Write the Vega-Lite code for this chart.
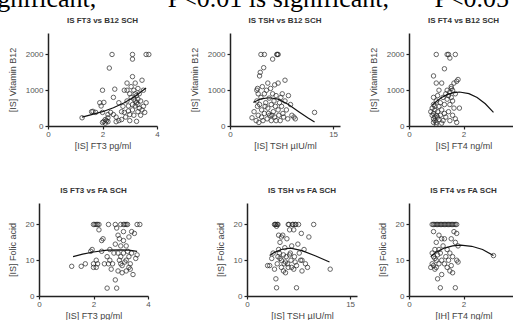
{
"$schema": "https://vega.github.io/schema/vega-lite/v6.json",
"padding": {"left": -20, "top": -14, "right": 0, "bottom": 0},
"title": {"text": "significant,\u00a0\u00a0\u00a0\u00a0\u00a0**\u00a0\u00a0P<0.01 is significant,\u00a0\u00a0\u00a0*\u00a0\u00a0P<0.05 is significant", "font": "Liberation Serif", "fontSize": 26, "fontWeight": "normal", "color": "#000", "anchor": "start", "frame": "group", "baseline": "alphabetic", "dx": -59, "offset": -16},
"datasets": {
"p1": [{"x":1.25,"y":230},{"x":1.6,"y":400},{"x":1.65,"y":410},{"x":1.75,"y":380},{"x":1.9,"y":650},{"x":2.0,"y":1000},{"x":2.05,"y":660},{"x":1.95,"y":560},{"x":2.0,"y":100},{"x":2.05,"y":130},{"x":2.1,"y":80},{"x":2.1,"y":180},{"x":2.15,"y":150},{"x":2.2,"y":120},{"x":2.2,"y":230},{"x":2.25,"y":1620},{"x":2.35,"y":2000},{"x":2.4,"y":800},{"x":2.45,"y":1030},{"x":2.3,"y":380},{"x":2.4,"y":320},{"x":2.5,"y":250},{"x":2.5,"y":120},{"x":2.6,"y":150},{"x":2.7,"y":180},{"x":2.7,"y":400},{"x":2.75,"y":550},{"x":2.8,"y":380},{"x":2.85,"y":250},{"x":2.9,"y":1200},{"x":2.9,"y":1000},{"x":2.9,"y":700},{"x":2.95,"y":560},{"x":2.95,"y":420},{"x":3.0,"y":900},{"x":3.0,"y":320},{"x":3.0,"y":150},{"x":3.05,"y":1100},{"x":3.05,"y":800},{"x":3.1,"y":1870},{"x":3.1,"y":2000},{"x":3.1,"y":1380},{"x":3.1,"y":600},{"x":3.1,"y":450},{"x":3.15,"y":1000},{"x":3.15,"y":750},{"x":3.15,"y":300},{"x":3.2,"y":1200},{"x":3.2,"y":900},{"x":3.2,"y":700},{"x":3.2,"y":560},{"x":3.25,"y":650},{"x":3.25,"y":850},{"x":3.25,"y":130},{"x":3.3,"y":1050},{"x":3.3,"y":750},{"x":3.3,"y":600},{"x":3.3,"y":400},{"x":3.35,"y":500},{"x":3.35,"y":900},{"x":3.4,"y":700},{"x":3.4,"y":300},{"x":3.45,"y":1280},{"x":3.45,"y":450},{"x":3.5,"y":1000},{"x":3.5,"y":550},{"x":3.55,"y":380},{"x":3.6,"y":2000},{"x":3.7,"y":2000},{"x":3.6,"y":650},{"x":2.6,"y":650},{"x":2.8,"y":1000},{"x":2.2,"y":320},{"x":2.0,"y":380}],
"f1": [{"x":1.25,"y":250},{"x":1.6,"y":320},{"x":2.0,"y":400},{"x":2.4,"y":510},{"x":2.8,"y":650},{"x":3.2,"y":830},{"x":3.6,"y":1060}],
"p2": [{"x":3.2,"y":230},{"x":3.5,"y":400},{"x":3.8,"y":150},{"x":3.9,"y":700},{"x":4.0,"y":1050},{"x":4.0,"y":550},{"x":4.1,"y":300},{"x":4.1,"y":900},{"x":4.2,"y":100},{"x":4.3,"y":1400},{"x":4.4,"y":1500},{"x":4.5,"y":2000},{"x":4.5,"y":800},{"x":4.6,"y":450},{"x":4.7,"y":1100},{"x":4.8,"y":150},{"x":4.9,"y":1630},{"x":5.0,"y":2000},{"x":5.0,"y":900},{"x":5.0,"y":350},{"x":5.2,"y":650},{"x":5.3,"y":1000},{"x":5.4,"y":200},{"x":5.5,"y":500},{"x":5.5,"y":1200},{"x":5.7,"y":780},{"x":5.8,"y":300},{"x":5.9,"y":1050},{"x":6.0,"y":600},{"x":6.0,"y":150},{"x":6.2,"y":1870},{"x":6.2,"y":900},{"x":6.3,"y":400},{"x":6.4,"y":700},{"x":6.5,"y":1150},{"x":6.5,"y":250},{"x":6.6,"y":550},{"x":6.7,"y":850},{"x":6.8,"y":2000},{"x":6.9,"y":2000},{"x":7.0,"y":2000},{"x":7.0,"y":1200},{"x":7.0,"y":450},{"x":7.1,"y":300},{"x":7.2,"y":650},{"x":7.3,"y":150},{"x":7.4,"y":800},{"x":7.5,"y":550},{"x":7.6,"y":900},{"x":7.8,"y":250},{"x":8.0,"y":1280},{"x":8.0,"y":700},{"x":8.2,"y":450},{"x":8.5,"y":850},{"x":8.8,"y":600},{"x":9.0,"y":300},{"x":9.3,"y":250},{"x":9.5,"y":200},{"x":12.3,"y":380},{"x":5.6,"y":350},{"x":6.1,"y":300},{"x":4.3,"y":600},{"x":3.9,"y":1000},{"x":5.1,"y":550},{"x":7.7,"y":350},{"x":8.4,"y":200},{"x":6.7,"y":150},{"x":4.6,"y":250}],
"f2": [{"x":3.4,"y":660},{"x":4.5,"y":760},{"x":5.7,"y":790},{"x":7.0,"y":750},{"x":8.5,"y":600},{"x":10.0,"y":400},{"x":11.3,"y":230},{"x":12.3,"y":110}],
"p3": [{"x":0.8,"y":400},{"x":0.85,"y":300},{"x":0.85,"y":500},{"x":0.9,"y":200},{"x":0.9,"y":350},{"x":0.9,"y":600},{"x":0.9,"y":800},{"x":0.9,"y":1400},{"x":0.95,"y":250},{"x":0.95,"y":150},{"x":0.95,"y":450},{"x":1.0,"y":2000},{"x":1.0,"y":300},{"x":1.0,"y":100},{"x":1.0,"y":700},{"x":1.0,"y":1200},{"x":1.05,"y":400},{"x":1.05,"y":250},{"x":1.1,"y":550},{"x":1.1,"y":1000},{"x":1.1,"y":180},{"x":1.15,"y":300},{"x":1.15,"y":650},{"x":1.2,"y":80},{"x":1.2,"y":1200},{"x":1.25,"y":800},{"x":1.25,"y":150},{"x":1.3,"y":1600},{"x":1.3,"y":600},{"x":1.35,"y":900},{"x":1.35,"y":250},{"x":1.4,"y":2000},{"x":1.4,"y":1000},{"x":1.4,"y":750},{"x":1.45,"y":2000},{"x":1.45,"y":850},{"x":1.45,"y":400},{"x":1.5,"y":1900},{"x":1.5,"y":950},{"x":1.5,"y":600},{"x":1.5,"y":150},{"x":1.55,"y":1100},{"x":1.55,"y":800},{"x":1.6,"y":1000},{"x":1.6,"y":300},{"x":1.65,"y":1200},{"x":1.65,"y":500},{"x":1.7,"y":2000},{"x":1.7,"y":900},{"x":1.7,"y":200},{"x":1.75,"y":1250},{"x":1.75,"y":100},{"x":1.8,"y":1300},{"x":1.85,"y":500},{"x":1.6,"y":700},{"x":1.55,"y":1050},{"x":0.95,"y":550},{"x":1.05,"y":850},{"x":1.3,"y":350},{"x":1.2,"y":450},{"x":0.9,"y":100},{"x":1.0,"y":50}],
"f3": [{"x":0.85,"y":585},{"x":1.0,"y":686},{"x":1.2,"y":796},{"x":1.4,"y":876},{"x":1.6,"y":927},{"x":1.85,"y":950},{"x":2.2,"y":905},{"x":2.5,"y":796},{"x":2.8,"y":621},{"x":3.1,"y":380}],
"p4": [{"x":1.2,"y":8.3},{"x":1.55,"y":8.3},{"x":1.7,"y":9},{"x":1.9,"y":12.5},{"x":1.95,"y":13},{"x":2.0,"y":20},{"x":2.05,"y":20},{"x":2.1,"y":20},{"x":2.15,"y":20},{"x":2.2,"y":20},{"x":2.0,"y":8},{"x":2.0,"y":9},{"x":2.1,"y":8},{"x":2.1,"y":10},{"x":2.15,"y":9},{"x":2.2,"y":18.5},{"x":2.3,"y":15.5},{"x":2.3,"y":12.5},{"x":2.35,"y":16},{"x":2.4,"y":9},{"x":2.5,"y":11},{"x":2.5,"y":2.2},{"x":2.55,"y":9},{"x":2.6,"y":10},{"x":2.65,"y":7.5},{"x":2.7,"y":9},{"x":2.75,"y":12},{"x":2.8,"y":4.5},{"x":2.8,"y":20},{"x":2.85,"y":19},{"x":2.85,"y":2.2},{"x":2.9,"y":17},{"x":2.9,"y":12},{"x":2.9,"y":7},{"x":2.95,"y":16},{"x":2.95,"y":10},{"x":3.0,"y":14},{"x":3.0,"y":11},{"x":3.0,"y":20},{"x":3.05,"y":8.5},{"x":3.05,"y":6.5},{"x":3.1,"y":20},{"x":3.1,"y":18},{"x":3.1,"y":15.5},{"x":3.1,"y":12},{"x":3.15,"y":9.5},{"x":3.15,"y":20},{"x":3.2,"y":20},{"x":3.2,"y":14},{"x":3.2,"y":10},{"x":3.2,"y":7},{"x":3.25,"y":20},{"x":3.25,"y":12.5},{"x":3.3,"y":8},{"x":3.3,"y":11},{"x":3.3,"y":16.5},{"x":3.35,"y":9},{"x":3.4,"y":18},{"x":3.4,"y":12},{"x":3.45,"y":6},{"x":3.5,"y":17.5},{"x":3.55,"y":10.5},{"x":3.6,"y":20},{"x":3.7,"y":20},{"x":3.6,"y":11.5},{"x":2.55,"y":20},{"x":2.6,"y":13},{"x":3.0,"y":9},{"x":3.35,"y":7.5},{"x":2.8,"y":14.5}],
"f4": [{"x":1.25,"y":11.0},{"x":1.6,"y":11.7},{"x":2.0,"y":12.3},{"x":2.5,"y":12.8},{"x":3.0,"y":12.9},{"x":3.3,"y":12.8},{"x":3.6,"y":12.5}],
"p5": [{"x":3.0,"y":8.5},{"x":3.3,"y":8.5},{"x":3.6,"y":10.5},{"x":3.8,"y":12},{"x":4.0,"y":20},{"x":4.1,"y":20},{"x":4.2,"y":20},{"x":4.3,"y":19.5},{"x":4.4,"y":20},{"x":4.5,"y":20},{"x":4.0,"y":7.5},{"x":4.2,"y":4.8},{"x":4.3,"y":2.3},{"x":4.4,"y":9},{"x":4.5,"y":11},{"x":4.6,"y":13},{"x":4.7,"y":12},{"x":4.8,"y":15},{"x":5.0,"y":16.5},{"x":5.0,"y":10},{"x":5.0,"y":8},{"x":5.2,"y":17},{"x":5.3,"y":11.5},{"x":5.4,"y":9},{"x":5.5,"y":13.5},{"x":5.6,"y":6.5},{"x":5.7,"y":11},{"x":5.8,"y":16},{"x":5.9,"y":9},{"x":6.0,"y":20},{"x":6.1,"y":20},{"x":6.2,"y":18.5},{"x":6.3,"y":12},{"x":6.4,"y":10},{"x":6.5,"y":8},{"x":6.5,"y":14},{"x":6.6,"y":20},{"x":6.7,"y":20},{"x":6.8,"y":18.5},{"x":6.9,"y":11},{"x":7.0,"y":20},{"x":7.1,"y":20},{"x":7.2,"y":8.5},{"x":7.2,"y":2.3},{"x":7.4,"y":14.5},{"x":7.5,"y":20},{"x":7.6,"y":12},{"x":7.8,"y":10},{"x":7.9,"y":17.5},{"x":8.0,"y":10},{"x":8.0,"y":7},{"x":8.3,"y":13},{"x":8.5,"y":9},{"x":8.8,"y":8},{"x":9.0,"y":16.5},{"x":9.7,"y":20},{"x":12.1,"y":7.5},{"x":5.3,"y":7},{"x":6.0,"y":8},{"x":6.2,"y":11.5},{"x":4.8,"y":10.5},{"x":5.6,"y":9.5},{"x":7.0,"y":9.5},{"x":6.8,"y":7.5},{"x":4.6,"y":17}],
"f5": [{"x":3.3,"y":11.3},{"x":4.0,"y":12.2},{"x":5.0,"y":13.0},{"x":6.0,"y":13.3},{"x":6.5,"y":13.3},{"x":8.0,"y":12.7},{"x":10.0,"y":11.2},{"x":12.0,"y":9.5}],
"p6": [{"x":0.8,"y":8},{"x":0.85,"y":9},{"x":0.85,"y":12},{"x":0.85,"y":20},{"x":0.9,"y":20},{"x":0.9,"y":8.5},{"x":0.9,"y":11},{"x":0.95,"y":20},{"x":0.95,"y":13},{"x":0.95,"y":7.5},{"x":1.0,"y":20},{"x":1.0,"y":15},{"x":1.0,"y":10},{"x":1.0,"y":8},{"x":1.05,"y":20},{"x":1.05,"y":11.5},{"x":1.05,"y":4.8},{"x":1.1,"y":20},{"x":1.1,"y":9},{"x":1.1,"y":17},{"x":1.15,"y":20},{"x":1.15,"y":2.3},{"x":1.15,"y":12},{"x":1.2,"y":20},{"x":1.2,"y":16},{"x":1.2,"y":10},{"x":1.25,"y":20},{"x":1.25,"y":14},{"x":1.3,"y":20},{"x":1.3,"y":9},{"x":1.3,"y":16},{"x":1.35,"y":20},{"x":1.35,"y":11},{"x":1.4,"y":20},{"x":1.4,"y":8},{"x":1.4,"y":13},{"x":1.45,"y":20},{"x":1.45,"y":10},{"x":1.5,"y":20},{"x":1.5,"y":12},{"x":1.5,"y":7},{"x":1.55,"y":20},{"x":1.55,"y":16},{"x":1.6,"y":20},{"x":1.6,"y":11},{"x":1.6,"y":6.5},{"x":1.65,"y":20},{"x":1.65,"y":18},{"x":1.7,"y":20},{"x":1.7,"y":2.3},{"x":1.7,"y":15},{"x":1.75,"y":20},{"x":1.75,"y":17.5},{"x":1.75,"y":10},{"x":1.8,"y":9.5},{"x":1.8,"y":14},{"x":3.1,"y":11.3},{"x":0.9,"y":18},{"x":1.2,"y":6},{"x":1.55,"y":8.5},{"x":0.95,"y":10.5},{"x":1.1,"y":13}],
"f6": [{"x":0.8,"y":11.0},{"x":1.0,"y":12.3},{"x":1.3,"y":13.4},{"x":1.6,"y":14.0},{"x":1.9,"y":14.2},{"x":2.3,"y":13.9},{"x":2.7,"y":13.0},{"x":3.1,"y":11.3}]
},
"vconcat": [
{"hconcat": [
 {"width": 9, "height": 93, "data": {"values": []}, "mark": "point"},
 {"width": 109, "height": 93, "title": "IS FT3 vs B12 SCH", "layer": [
  {"data": {"name": "p1"}, "mark": {"type": "point", "shape": "circle", "size": 20, "strokeWidth": 1, "color": "#222"},
   "encoding": {"x": {"field": "x", "type": "quantitative", "scale": {"domain": [0, 4]}, "axis": {"values": [0,1,2,3,4], "format": "d", "title": "[IS] FT3 pg/ml"}},
                "y": {"field": "y", "type": "quantitative", "scale": {"domain": [0, 2500]}, "axis": {"values": [0,500,1000,1500,2000,2500], "format": "d", "title": "[IS] Vitamin B12"}}}},
  {"data": {"name": "f1"}, "mark": {"type": "line", "color": "#111", "strokeWidth": 1.2}, "encoding": {"x": {"field": "x", "type": "quantitative"}, "y": {"field": "y", "type": "quantitative"}}}
 ]},
 {"width": 73, "height": 93, "data": {"values": []}, "mark": "point"},
 {"width": 110, "height": 93, "title": "IS TSH vs B12 SCH", "layer": [
  {"data": {"name": "p2"}, "mark": {"type": "point", "shape": "circle", "size": 20, "strokeWidth": 1, "color": "#222"},
   "encoding": {"x": {"field": "x", "type": "quantitative", "scale": {"domain": [0, 15]}, "axis": {"values": [0,5,10,15], "format": "d", "title": "[IS] TSH µIU/ml"}},
                "y": {"field": "y", "type": "quantitative", "scale": {"domain": [0, 2500]}, "axis": {"values": [0,500,1000,1500,2000,2500], "format": "d", "title": "[IS] Vitamin B12"}}}},
  {"data": {"name": "f2"}, "mark": {"type": "line", "color": "#111", "strokeWidth": 1.2}, "encoding": {"x": {"field": "x", "type": "quantitative"}, "y": {"field": "y", "type": "quantitative"}}}
 ]},
 {"width": 69, "height": 93, "data": {"values": []}, "mark": "point"},
 {"width": 109, "height": 93, "title": "IS FT4 vs B12 SCH", "layer": [
  {"data": {"name": "p3"}, "mark": {"type": "point", "shape": "circle", "size": 20, "strokeWidth": 1, "color": "#222"},
   "encoding": {"x": {"field": "x", "type": "quantitative", "scale": {"domain": [0, 4]}, "axis": {"values": [0,1,2,3,4], "format": "d", "title": "[IS] FT4 ng/ml"}},
                "y": {"field": "y", "type": "quantitative", "scale": {"domain": [0, 2500]}, "axis": {"values": [0,500,1000,1500,2000,2500], "format": "d", "title": "[IS] Vitamin B12"}}}},
  {"data": {"name": "f3"}, "mark": {"type": "line", "color": "#111", "strokeWidth": 1.2}, "encoding": {"x": {"field": "x", "type": "quantitative"}, "y": {"field": "y", "type": "quantitative"}}}
 ]}
], "spacing": 0, "bounds": "flush"},
{"hconcat": [
 {"width": 109, "height": 93, "title": "IS FT3 vs FA SCH", "layer": [
  {"data": {"name": "p4"}, "mark": {"type": "point", "shape": "circle", "size": 20, "strokeWidth": 1, "color": "#222"},
   "encoding": {"x": {"field": "x", "type": "quantitative", "scale": {"domain": [0, 4]}, "axis": {"values": [0,1,2,3,4], "format": "d", "title": "[IS] FT3 pg/ml"}},
                "y": {"field": "y", "type": "quantitative", "scale": {"domain": [0, 25]}, "axis": {"values": [0,5,10,15,20,25], "format": "d", "title": "[IS] Folic acid"}}}},
  {"data": {"name": "f4"}, "mark": {"type": "line", "color": "#111", "strokeWidth": 1.2}, "encoding": {"x": {"field": "x", "type": "quantitative"}, "y": {"field": "y", "type": "quantitative"}}}
 ]},
 {"width": 99, "height": 93, "data": {"values": []}, "mark": "point"},
 {"width": 110, "height": 93, "title": "IS TSH vs FA SCH", "layer": [
  {"data": {"name": "p5"}, "mark": {"type": "point", "shape": "circle", "size": 20, "strokeWidth": 1, "color": "#222"},
   "encoding": {"x": {"field": "x", "type": "quantitative", "scale": {"domain": [0, 15]}, "axis": {"values": [0,5,10,15], "format": "d", "title": "[IS] TSH µIU/ml"}},
                "y": {"field": "y", "type": "quantitative", "scale": {"domain": [0, 25]}, "axis": {"values": [0,5,10,15,20,25], "format": "d", "title": "[IS] Folic acid"}}}},
  {"data": {"name": "f5"}, "mark": {"type": "line", "color": "#111", "strokeWidth": 1.2}, "encoding": {"x": {"field": "x", "type": "quantitative"}, "y": {"field": "y", "type": "quantitative"}}}
 ]},
 {"width": 52, "height": 93, "data": {"values": []}, "mark": "point"},
 {"width": 109, "height": 93, "title": "IS FT4 vs FA SCH", "layer": [
  {"data": {"name": "p6"}, "mark": {"type": "point", "shape": "circle", "size": 20, "strokeWidth": 1, "color": "#222"},
   "encoding": {"x": {"field": "x", "type": "quantitative", "scale": {"domain": [0, 4]}, "axis": {"values": [0,1,2,3,4], "format": "d", "title": "[IH] FT4 ng/ml"}},
                "y": {"field": "y", "type": "quantitative", "scale": {"domain": [0, 25]}, "axis": {"values": [0,5,10,15,20,25], "format": "d", "title": "[IS] Folic acid"}}}},
  {"data": {"name": "f6"}, "mark": {"type": "line", "color": "#111", "strokeWidth": 1.2}, "encoding": {"x": {"field": "x", "type": "quantitative"}, "y": {"field": "y", "type": "quantitative"}}}
 ]}
], "spacing": 0, "bounds": "flush"}
],
"spacing": 37,
"config": {
 "view": {"stroke": null},
 "font": "Liberation Sans",
 "axis": {"grid": false, "domainColor": "#222", "domainWidth": 1.5, "tickColor": "#222", "tickWidth": 1.2, "tickSize": 3, "labelFontSize": 8, "labelColor": "#555", "labelFlush": false, "titleFontSize": 9, "titleFontWeight": "normal", "titleColor": "#444"},
 "axisX": {"labelPadding": 1, "titlePadding": 3},
 "axisY": {"labelPadding": 2, "titlePadding": 8},
 "title": {"fontSize": 8, "fontWeight": "bold", "color": "#333", "offset": 8}
}
}
